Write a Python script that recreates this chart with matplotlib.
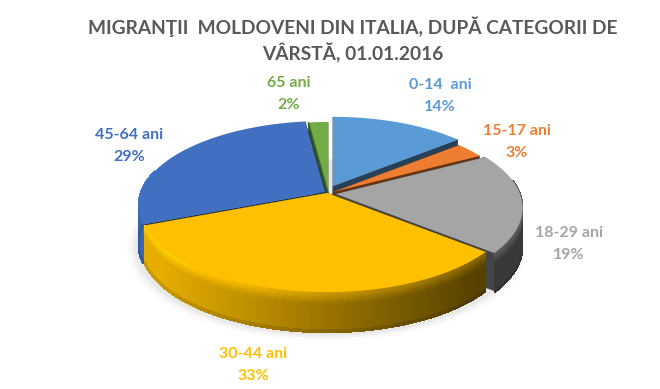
import numpy as np
import matplotlib
matplotlib.use("Agg")
import matplotlib.pyplot as plt
from matplotlib.collections import PolyCollection
from matplotlib.colors import to_rgb

categories = ["0-14  ani", "15-17 ani", "18-29 ani", "30-44 ani", "45-64 ani", "65 ani"]
values = [14, 3, 19, 33, 29, 2]
colors = ["#5B9BD5", "#ED7D31", "#A5A5A5", "#FFC000", "#4170C0", "#70AD47"]
title = "MIGRANŢII  MOLDOVENI DIN ITALIA, DUPĂ CATEGORII DE\nVÂRSTĂ, 01.01.2016"

# Style / layout (pixel space)
CX, CY = 327, 193
B, A, K = 184, 82.7, 0.165
DEPTH = 38
shift = {0: (6, -7, .97), 1: (6, -1, .98), 2: (9, 1, 1.0), 3: (0, 0, 1.0), 4: (-2, -1, 1.0), 5: (1, 0, 1.0)}
label_xy = [(440, 96), (517, 142), (569, 244), (253, 365), (129, 146), (289, 94)]

fig = plt.figure(figsize=(6.6, 3.89), dpi=100)
ax = fig.add_axes([0, 0, 1, 1])
ax.set_xlim(0, 660); ax.set_ylim(389, 0); ax.axis("off")


def proj(theta, r=1.0):
    u, v = r * np.sin(theta), r * np.cos(theta)
    w = 1 + K * v
    return B * u / w, -A * v / w


def smooth(t):
    t = np.clip(t, 0, 1)
    return t * t * (3 - 2 * t)


# soft ground shadow
th = np.linspace(0, 2 * np.pi, 200)
for grow, al in [(1.07, .02), (1.05, .03), (1.03, .04)]:
    x, y = proj(th, grow)
    ax.fill(CX + x, CY + y + DEPTH + 2, color="k", alpha=al, lw=0, zorder=0)

edges = np.cumsum([0] + values) / sum(values) * 2 * np.pi
order = [5, 4, 0, 1, 2, 3]
z = 1
for i in order:
    t0, t1 = edges[i], edges[i + 1]
    dx, dy, rs = shift[i]
    px, py = CX + dx, CY + dy
    base = np.array(to_rgb(colors[i]))
    dark = base * 0.42
    ts = np.linspace(t0, t1, max(8, int((t1 - t0) * 160)))
    x, y = proj(ts, rs)
    X, Y = px + x, py + y
    # radial cut faces
    for k in (0, -1):
        ax.fill([px, X[k], X[k], px], [py, Y[k], Y[k] + DEPTH, py + DEPTH], color=dark, lw=.3, zorder=z)
    z += 1
    # outer wall as bands
    polys, cols = [], []
    bands = np.linspace(0, 1, 20)
    for a in range(len(ts) - 1):
        if not (np.radians(80) < ts[a] < np.radians(285)):
            continue
        lx = (X[a] - (CX - B)) / (2 * B)
        wall = 0.9 - 0.56 * np.clip((lx - .05) / .85, 0, 1)
        for b in range(len(bands) - 1):
            s0, s1 = bands[b], bands[b + 1]
            mid = (s0 + s1) / 2
            d = DEPTH * (1 + .06 * max(0, np.cos(ts[a] - np.pi)))
            f = 1 - smooth(mid / .36)
            c = base * wall * (1 - f) + np.minimum(1, base * (wall + .2)) * f
            if mid > .93:
                c = c * .88
            polys.append([(X[a], Y[a] + d * s0), (X[a + 1], Y[a + 1] + d * s0),
                          (X[a + 1], Y[a + 1] + d * s1), (X[a], Y[a] + d * s1)])
            cols.append(np.clip(c, 0, 1))
    if polys:
        ax.add_collection(PolyCollection(polys, facecolors=cols, edgecolors=cols, linewidths=.6,
                                         antialiaseds=False, zorder=z))
    z += 1
    # top face
    ax.fill(np.r_[px, X], np.r_[py, Y], color=colors[i], lw=0, zorder=z)
    if i == 5:
        ax.plot([px, X[0]], [py, Y[0]], color="#3b5e25", lw=1.2, zorder=z + .5, solid_capstyle="butt")
    z += 1

# labels
for name, val, col, (lx, ly) in zip(categories, values, colors, label_xy):
    ax.text(lx, ly, f"{name}\n{val}%", color=col, ha="center", va="center", fontsize=11.5,
            family="Lato", weight="bold", linespacing=1.72, zorder=z)

ax.text(353, 40, title, color="#595959", ha="center", va="center", fontsize=13.8,
        family="Lato", weight="bold", linespacing=1.36, zorder=z)

fig.savefig("out.png", dpi=100)
